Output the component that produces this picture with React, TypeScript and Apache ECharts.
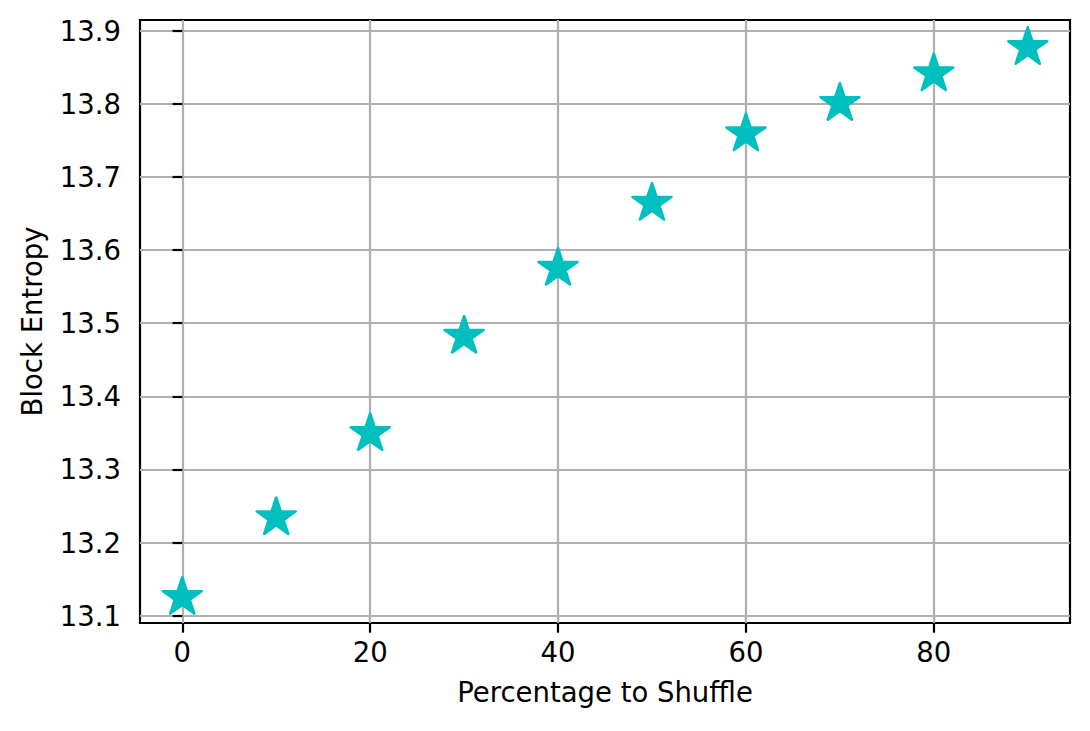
import React, { useEffect, useRef } from "react";
import * as echarts from "echarts";

const percentages = [0, 10, 20, 30, 40, 50, 60, 70, 80, 90];
const blockEntropy = [13.125, 13.234, 13.349, 13.482, 13.575, 13.664, 13.759, 13.8005, 13.841, 13.877];
const xTicks = [0, 20, 40, 60, 80];
const yTicks = [13.1, 13.2, 13.3, 13.4, 13.5, 13.6, 13.7, 13.8, 13.9];

const STAR =
  "path://M100 0 L122.45 69.1 L195.11 69.1 L136.33 111.8 L158.78 180.9 L100 138.2 L41.22 180.9 L63.67 111.8 L4.89 69.1 L77.55 69.1 Z";

export default function App() {
  const ref = useRef<HTMLDivElement>(null);
  useEffect(() => {
    if (!ref.current) return;
    const chart = echarts.init(ref.current, null, { renderer: "svg" });
    const font = "DejaVu Sans";
    const fs = 27.5;
    chart.setOption({
      animation: false,
      backgroundColor: "#ffffff",
      grid: {
        left: 140,
        top: 20,
        width: 930,
        height: 603,
        show: true,
        borderColor: "#000000",
        borderWidth: 2.2,
        backgroundColor: "transparent",
      },
      xAxis: {
        type: "value",
        min: -4.5,
        max: 94.5,
        name: "Percentage to Shuffle",
        nameLocation: "middle",
        nameGap: 55,
        nameTextStyle: { fontFamily: font, fontSize: fs, color: "#000" },
        axisLine: { show: false },
        axisTick: { show: true, length: 9.7, lineStyle: { color: "#000", width: 2.2 }, customValues: xTicks },
        axisLabel: {
          fontFamily: font,
          fontSize: fs,
          color: "#000",
          margin: 15,
          customValues: xTicks,
          formatter: (v: number) => String(Math.round(v)),
        },
        splitLine: { show: true, lineStyle: { color: "#b0b0b0", width: 2.2 } },
      },
      yAxis: {
        type: "value",
        min: 13.09,
        max: 13.9146,
        name: "Block Entropy",
        nameLocation: "middle",
        nameGap: 94,
        nameTextStyle: { fontFamily: font, fontSize: fs, color: "#000" },
        axisLine: { show: false },
        axisTick: { show: true, length: 9.7, lineStyle: { color: "#000", width: 2.2 }, customValues: yTicks },
        axisLabel: {
          fontFamily: font,
          fontSize: fs,
          color: "#000",
          margin: 19,
          customValues: yTicks,
          formatter: (v: number) => v.toFixed(1),
        },
        splitLine: { show: true, lineStyle: { color: "#b0b0b0", width: 2.2 } },
      },
      series: [
        {
          type: "scatter",
          data: percentages.map((x, i) => [x, blockEntropy[i]]),
          symbol: STAR,
          symbolSize: [39, 36.5],
          symbolOffset: [0, -2],
          itemStyle: {
            color: "#00bfbf",
            borderColor: "#00bfbf",
            borderWidth: 2.5,
            borderJoin: "round",
            opacity: 1,
          },
          z: 5,
        },
      ],
    });
    return () => chart.dispose();
  }, []);
  return (
    <div
      ref={ref}
      style={{ position: "absolute", left: 0, top: 0, width: 1090, height: 731 }}
    />
  );
}
